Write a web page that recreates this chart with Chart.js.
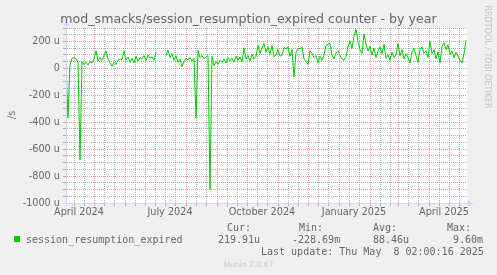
<!DOCTYPE html>
<html><head><meta charset="utf-8">
<script src="https://cdn.jsdelivr.net/npm/chart.js@4"></script>
<style>
html,body{margin:0;padding:0;background:#f0f0f0;}
#wrap{position:relative;width:497px;height:275px;overflow:hidden;background:#f0f0f0;}
canvas{position:absolute;left:0;top:0;}
.t{position:absolute;white-space:pre;color:#666;line-height:1;}
.mono{font-family:"DejaVu Sans Mono",monospace;font-size:10px;}
</style></head><body>
<div id="wrap">
<canvas id="c" width="497" height="275"></canvas>
<div class="t" style="font-family:'DejaVu Sans';font-size:12.6px;left:0;width:497px;text-align:center;top:13px;">mod_smacks/session_resumption_expired counter - by year</div>
<div class="t" style="font-family:'DejaVu Sans';font-size:9.7px;left:2px;top:110px;width:20px;text-align:center;transform:rotate(-90deg);">/s</div>
<div class="t" style="font-family:'DejaVu Sans';font-size:8px;color:#c4c4c4;left:434px;top:53px;width:106px;text-align:center;transform:rotate(90deg);">RRDTOOL / TOBI OETIKER</div>
<div style="position:absolute;left:14px;top:236px;width:6px;height:6px;background:#00cc00;"></div>
<div class="t mono" style="left:26px;top:234.5px;">session_resumption_expired</div>
<div class="t mono" style="left:227px;top:223px;">Cur:</div>
<div class="t mono" style="left:299px;top:223px;">Min:</div>
<div class="t mono" style="left:373px;top:223px;">Avg:</div>
<div class="t mono" style="left:447px;top:223px;">Max:</div>
<div class="t mono" style="left:218px;top:234.5px;">219.91u</div>
<div class="t mono" style="left:292px;top:234.5px;">-228.69m</div>
<div class="t mono" style="left:373px;top:234.5px;">88.46u</div>
<div class="t mono" style="left:453px;top:234.5px;">9.60m</div>
<div class="t mono" style="left:261px;top:247px;">Last update: Thu May  8 02:00:16 2025</div>
<div class="t" style="font-family:'DejaVu Sans';font-size:7.6px;color:#c8c8c8;left:0;width:497px;text-align:center;top:260.5px;">Munin 2.0.67</div>
</div>
<script>
// ---- data (day 0 = 2024-04-03, one value every 2 days) ----
const stepDays = 2;
const values = [
 55,-370,30,75,80,70,45,-680,50,30,
 45,25,50,40,70,130,55,80,60,95,
 130,70,40,15,45,30,60,70,65,130,
 60,85,45,75,40,90,55,80,70,95,
 60,100,75,85,60,120,null,null,null,null,
 95,135,80,110,60,95,45,70,12,50,
 75,60,80,55,75,-370,135,80,95,70,
 85,95,-900,90,20,50,30,60,45,70,
 40,80,55,75,45,90,60,85,50,150,
 70,95,55,105,70,90,172,110,150,185,
 120,160,105,170,85,100,140,90,100,155,
 145,160,90,140,-62,120,150,145,160,70,
 50,30,130,110,80,95,40,90,60,100,
 170,180,185,100,70,115,130,95,70,60,
 85,160,200,150,240,290,200,140,110,255,
 180,130,165,100,150,80,130,160,110,180,
 75,100,60,120,80,100,185,95,140,70,
 110,80,40,120,150,95,45,140,160,110,
 130,80,200,110,140,70,120,40,165,190,
 140,175,100,130,80,120,90,60,40,110,
 210
];
// month starts (major grid), minor grid days, labelled months
const monthStartDays = [28,59,89,120,151,181,212,242,273,304,332,363,393];
const minorGridDays = [8,18,38,48,69,79,99,109,130,140,161,171,191,201,222,232,252,262,283,293,314,324,342,352,373,383];
const monthLabels = ['April 2024','July 2024','October 2024','January 2025','April 2025'];
const monthLabelDays = [13,104,196,288,378];
const yTickValues = [-1000,-800,-600,-400,-200,0,200];
const yMinorValues = [-950,-900,-850,-750,-700,-650,-550,-500,-450,-350,-300,-250,-150,-100,-50,50,100,150,250,300];

const MAJOR = 'rgba(222,79,79,0.6)';
const MINOR = 'rgba(143,143,143,0.7)';
const AXIS = '#CFD6F8';

const points = values.map((v,i)=>({x:i*stepDays, y:v}));

const xTicks = [...monthStartDays, ...minorGridDays, ...monthLabelDays].sort((a,b)=>a-b);
const yTicks = [...yTickValues, ...yMinorValues].sort((a,b)=>a-b);

function xColor(ctx){
  const v = ctx.tick ? ctx.tick.value : null;
  if (monthStartDays.includes(v)) return MAJOR;
  if (minorGridDays.includes(v)) return MINOR;
  return 'rgba(0,0,0,0)';
}
function yColor(ctx){
  const v = ctx.tick ? ctx.tick.value : null;
  if (yTickValues.includes(v)) return MAJOR;
  return MINOR;
}

const arrows = {
  id:'arrows',
  afterDraw(c){
    const {ctx, chartArea:a} = c;
    ctx.save();
    ctx.strokeStyle = AXIS; ctx.fillStyle = AXIS; ctx.lineWidth = 1;
    ctx.beginPath();
    ctx.moveTo(a.left-3, a.bottom+0.5); ctx.lineTo(a.right+2, a.bottom+0.5);
    ctx.moveTo(a.left+0.5, a.bottom+3); ctx.lineTo(a.left+0.5, a.top-2);
    ctx.stroke();
    ctx.beginPath();
    ctx.moveTo(a.right+1, a.bottom-2.5); ctx.lineTo(a.right+6.5, a.bottom+0.5); ctx.lineTo(a.right+1, a.bottom+3.5); ctx.closePath();
    ctx.fill();
    ctx.beginPath();
    ctx.moveTo(a.left-2.5, a.top-2); ctx.lineTo(a.left+0.5, a.top-7.5); ctx.lineTo(a.left+3.5, a.top-2); ctx.closePath();
    ctx.fill();
    ctx.restore();
  }
};

const canvasBg = {
  id:'canvasBg',
  beforeDraw(c){
    const {ctx, chartArea:a} = c;
    ctx.save(); ctx.fillStyle='#ffffff';
    ctx.fillRect(a.left, a.top, a.right-a.left, a.bottom-a.top);
    ctx.restore();
  }
};

new Chart(document.getElementById('c'), {
  type:'line',
  data:{datasets:[{data:points, borderColor:'#00cc00', borderWidth:1, pointRadius:0, fill:false, tension:0, spanGaps:false}]},
  options:{
    responsive:false, animation:false,
    layout:{padding:{top:28,right:30,bottom:52,left:0}},
    plugins:{legend:{display:false}, tooltip:{enabled:false}, title:{display:false}},
    scales:{
      x:{
        type:'linear', min:0, max:401,
        afterBuildTicks:s=>{ s.ticks = xTicks.map(v=>({value:v})); },
        afterFit:s=>{ s.height = 20; },
        ticks:{autoSkip:false, maxRotation:0, minRotation:0, padding:1, color:'#666',
          font:{family:'DejaVu Sans', size:9.7},
          callback:(v)=>{ const k = monthLabelDays.indexOf(v); return k>=0 ? monthLabels[k] : ''; }},
        grid:{color:xColor, tickColor:xColor, tickLength:3, lineWidth:1},
        border:{color:AXIS, width:1, dash:[1,1]}
      },
      y:{
        min:-1000, max:300,
        afterBuildTicks:s=>{ s.ticks = yTicks.map(v=>({value:v})); },
        afterFit:s=>{ s.width = 66; },
        ticks:{autoSkip:false, padding:3, color:'#666',
          font:{family:'DejaVu Sans', size:9.7},
          callback:(v)=> yTickValues.includes(v) ? (v===0 ? '0' : v+' u') : ''},
        grid:{color:yColor, tickColor:yColor, tickLength:3, lineWidth:1},
        border:{color:AXIS, width:1, dash:[1,1]}
      }
    }
  },
  plugins:[canvasBg, arrows]
});
</script>
</body></html>
